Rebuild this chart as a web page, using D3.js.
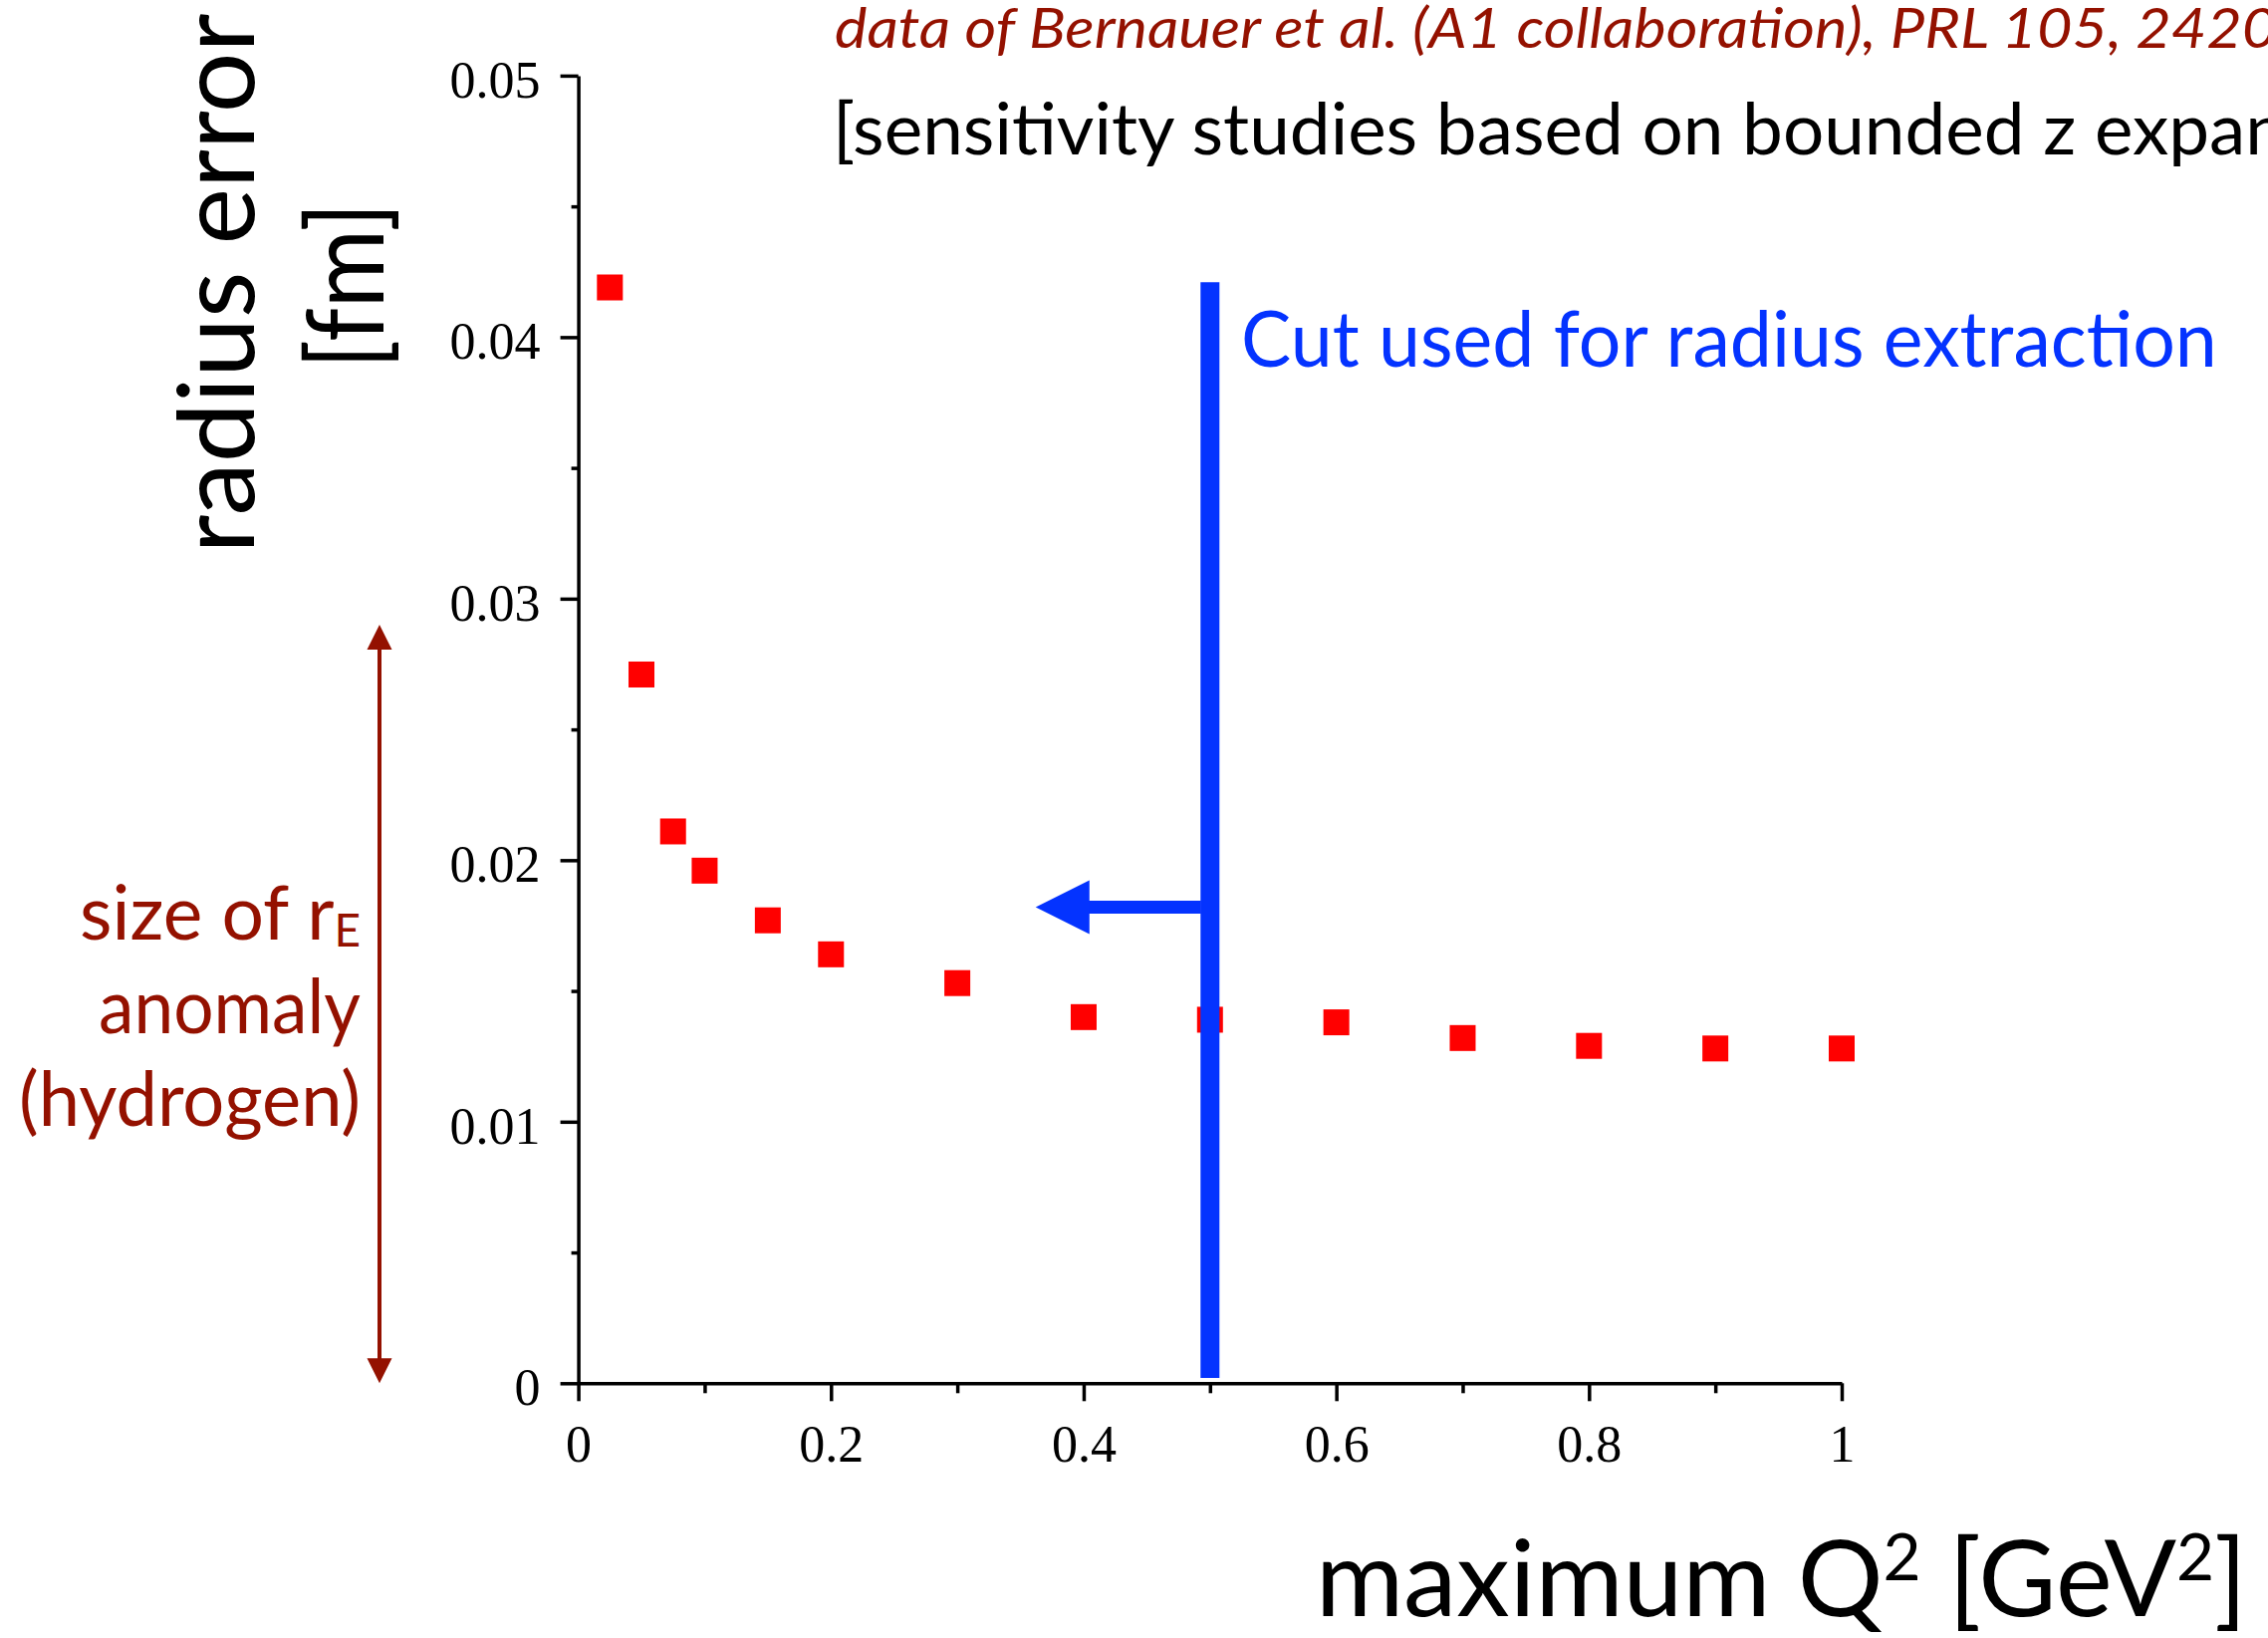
<!DOCTYPE html>
<html>
<head>
<meta charset="utf-8">
<script src="https://cdn.jsdelivr.net/npm/d3@7"></script>
<style>
  html, body { margin: 0; padding: 0; background: #fff; }
  svg { display: block; }
</style>
</head>
<body>
<div id="chart"></div>
<script>
// max Q^2 cut [GeV^2] vs. radius error [fm]
var q2Max = [0.025, 0.05, 0.075, 0.1, 0.15, 0.2, 0.3, 0.4, 0.5, 0.6, 0.7, 0.8, 0.9, 1.0];
var radiusErr = [0.0419, 0.0271, 0.0211, 0.0196, 0.0177, 0.0164, 0.0153, 0.0140, 0.0139, 0.0138, 0.0132, 0.0129, 0.0128, 0.0128];

var xTicks = [0, 0.2, 0.4, 0.6, 0.8, 1];
var xTickLabels = ["0", "0.2", "0.4", "0.6", "0.8", "1"];
var xMinor = [0.1, 0.3, 0.5, 0.7, 0.9];
var yTicks = [0, 0.01, 0.02, 0.03, 0.04, 0.05];
var yTickLabels = ["0", "0.01", "0.02", "0.03", "0.04", "0.05"];
var yMinor = [0.005, 0.015, 0.025, 0.035, 0.045];

// annotations
var cutQ2 = 0.5;               // cut used for radius extraction
var cutSpan = [0.0002, 0.0421];
var cutArrowTip = 0.362;
var cutArrowLevel = 0.0182;
var anomalySpan = [0, 0.029];  // size of r_E anomaly (hydrogen)

var width = 2277, height = 1644;
var sans = "Lato, 'Open Sans', sans-serif";
var serif = "'Liberation Serif', 'Times New Roman', serif";
var maroon = "#941100", blue = "#0433ff", red = "#ff0000";

var svg = d3.select("#chart").append("svg")
  .attr("width", width)
  .attr("height", height);

var x = d3.scaleLinear().domain([0, 1]).range([580.6, 1849]);
var y = d3.scaleLinear().domain([0, 0.05]).range([1388.3, 75.9]);

// text squeezed/stretched horizontally to the width it has in the picture
function fitText(opts) {
  var t = svg.append("text")
    .attr("font-family", sans)
    .attr("font-size", opts.size)
    .attr("fill", opts.color || "#000")
    .attr("text-anchor", opts.anchor || "start");
  if (opts.italic) t.attr("font-style", "italic");
  opts.build(t);
  var node = t.node();
  var w = opts.sub ? node.getSubStringLength(0, opts.sub) : node.getComputedTextLength();
  var sx = opts.width / w;
  t.attr("transform", "translate(" + opts.x + "," + opts.y + ")" +
    (opts.rotate ? " rotate(" + opts.rotate + ")" : "") +
    " scale(" + sx + ",1)");
  return t;
}

function draw() {
  // y axis
  var yAxis = svg.append("g")
    .attr("transform", "translate(" + x(0) + ",0)")
    .call(d3.axisLeft(y).tickValues(yTicks).tickSize(18).tickSizeOuter(0).tickPadding(20)
      .tickFormat(function(d, i) { return yTickLabels[i]; }));
  svg.append("g")
    .attr("transform", "translate(" + x(0) + ",0)")
    .call(d3.axisLeft(y).tickValues(yMinor).tickSize(7).tickFormat(""))
    .select(".domain").remove();

  // x axis
  var xAxis = svg.append("g")
    .attr("transform", "translate(0," + y(0) + ")")
    .call(d3.axisBottom(x).tickValues(xTicks).tickSize(18).tickSizeOuter(0).tickPadding(24)
      .tickFormat(function(d, i) { return xTickLabels[i]; }));
  svg.append("g")
    .attr("transform", "translate(0," + y(0) + ")")
    .call(d3.axisBottom(x).tickValues(xMinor).tickSize(10).tickFormat(""))
    .select(".domain").remove();

  svg.selectAll(".domain").attr("stroke", "#000").attr("stroke-width", 3.5);
  svg.selectAll(".tick line").attr("stroke", "#000").attr("stroke-width", 3.5);
  svg.selectAll(".tick text")
    .attr("font-family", serif)
    .attr("font-size", 52)
    .attr("fill", "#000");
  yAxis.selectAll(".tick text").attr("dy", "0.41em");

  // data points
  svg.append("g").selectAll("rect")
    .data(q2Max)
    .enter()
    .append("rect")
    .attr("x", function(d) { return x(d) - 13; })
    .attr("y", function(d, i) { return y(radiusErr[i]) - 13; })
    .attr("width", 26)
    .attr("height", 26)
    .attr("fill", red);

  // cut line + arrow
  svg.append("line")
    .attr("x1", x(cutQ2)).attr("x2", x(cutQ2))
    .attr("y1", y(cutSpan[0])).attr("y2", y(cutSpan[1]))
    .attr("stroke", blue)
    .attr("stroke-width", 19);
  svg.append("line")
    .attr("x1", x(cutQ2) - 9).attr("x2", x(cutArrowTip) + 50)
    .attr("y1", y(cutArrowLevel)).attr("y2", y(cutArrowLevel))
    .attr("stroke", blue)
    .attr("stroke-width", 13);
  svg.append("path")
    .attr("d", d3.line()([
      [x(cutArrowTip), y(cutArrowLevel)],
      [x(cutArrowTip) + 54, y(cutArrowLevel) - 27],
      [x(cutArrowTip) + 54, y(cutArrowLevel) + 27]
    ]) + "Z")
    .attr("fill", blue);

  // anomaly double arrow
  var ax = 381;
  svg.append("line")
    .attr("x1", ax).attr("x2", ax)
    .attr("y1", y(anomalySpan[1]) + 20).attr("y2", y(anomalySpan[0]) - 20)
    .attr("stroke", maroon)
    .attr("stroke-width", 4);
  svg.append("path")
    .attr("d", d3.line()([[ax, y(anomalySpan[1])], [ax - 12.5, y(anomalySpan[1]) + 25], [ax + 12.5, y(anomalySpan[1]) + 25]]) + "Z")
    .attr("fill", maroon);
  svg.append("path")
    .attr("d", d3.line()([[ax, y(anomalySpan[0])], [ax - 12.5, y(anomalySpan[0]) - 25], [ax + 12.5, y(anomalySpan[0]) - 25]]) + "Z")
    .attr("fill", maroon);

  // axis titles
  fitText({ x: 255, y: 284.6, rotate: -90, anchor: "middle", size: 106, width: 542,
    build: function(t) { t.text("radius error"); } });
  fitText({ x: 385, y: 286.8, rotate: -90, anchor: "middle", size: 106, width: 167,
    build: function(t) { t.text("[fm]"); } });
  fitText({ x: 1321, y: 1622, size: 106, width: 935,
    build: function(t) {
      t.append("tspan").text("maximum Q");
      t.append("tspan").attr("dy", -36).attr("font-size", 65).text("2");
      t.append("tspan").attr("dy", 36).text(" [GeV");
      t.append("tspan").attr("dy", -36).attr("font-size", 65).text("2");
      t.append("tspan").attr("dy", 36).text("]");
    } });

  // annotations
  fitText({ x: 1246, y: 368, size: 77, width: 980, color: blue,
    build: function(t) { t.text("Cut used for radius extraction"); } });
  fitText({ x: 838, y: 47.7, size: 56, italic: true, color: maroon, sub: 16, width: 427,
    build: function(t) { t.text("data of Bernauer et al. (A1 collaboration), PRL 105, 242001 (2010)"); } });
  fitText({ x: 836, y: 155, size: 72, sub: 37, width: 1197,
    build: function(t) { t.text("[sensitivity studies based on bounded z expansion fits]"); } });

  fitText({ x: 362, y: 943, anchor: "end", size: 75, color: maroon, width: 282,
    build: function(t) {
      t.append("tspan").text("size of r");
      t.append("tspan").attr("dy", 7).attr("font-size", 46).text("E");
    } });
  fitText({ x: 362, y: 1036.7, anchor: "end", size: 75, color: maroon, width: 263,
    build: function(t) { t.text("anomaly"); } });
  fitText({ x: 362, y: 1130, anchor: "end", size: 75, color: maroon, width: 343,
    build: function(t) { t.text("(hydrogen)"); } });
}

if (document.fonts && document.fonts.ready) {
  document.fonts.ready.then(draw);
} else {
  draw();
}
</script>
</body>
</html>
